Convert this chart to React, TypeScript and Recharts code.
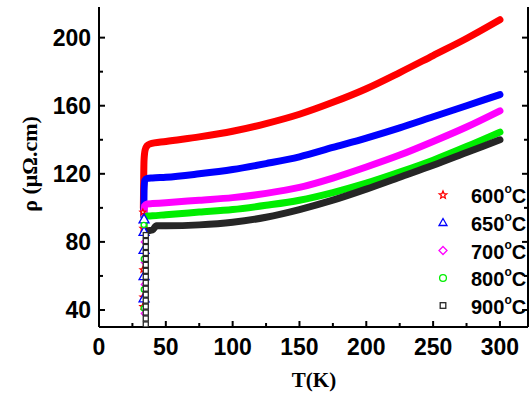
import React from "react";
import { ComposedChart, Line, Scatter, XAxis, YAxis } from "recharts";

// annealing temperatures (legend)
const labels = ["600", "650", "700", "800", "900"];
const colors = ["#ff0000", "#0000ff", "#ff00ff", "#00ee00", "#262626"];
const kinds = ["star", "triangle", "diamond", "circle", "square"];

// dense curves, T (K) and rho (µΩ.cm)
const t600 = [33.2, 33.4, 33.7, 34.5, 36, 38, 50, 75, 100, 125, 150, 175, 200, 225, 250, 275, 300];
const r600 = [100, 115, 128, 134, 136.5, 137.5, 139, 141.7, 145, 149.5, 155, 162, 170, 179.5, 189.5, 199.5, 210.5];
const t650 = [33.5, 33.7, 34.2, 36, 40, 50, 75, 100, 125, 150, 175, 200, 225, 250, 275, 300];
const r650 = [95, 110, 116, 117.3, 117.6, 118, 120, 122.5, 126, 130, 135.5, 141, 147, 153.5, 160, 166.5];
const t700 = [33.8, 34, 36, 40, 50, 75, 100, 125, 150, 175, 200, 225, 250, 275, 300];
const r700 = [96, 101, 102.3, 102.5, 103, 104.5, 106, 108.5, 112, 117.5, 124, 131, 139, 147.5, 157];
const t800 = [33.8, 34, 36, 40, 50, 75, 100, 125, 150, 175, 200, 225, 250, 275, 300];
const r800 = [88, 94, 95.2, 95.3, 96, 97.5, 99, 101.5, 104.5, 109, 114.5, 121, 128, 136, 144.5];
const t900 = [35, 36, 40, 43, 50, 75, 100, 125, 150, 175, 200, 225, 250, 275, 300];
const r900 = [86, 86.5, 87, 89.5, 89.5, 90, 91.5, 94.5, 99, 104.5, 111, 118, 125, 132.5, 140];

// sparse points in the transition
const dropT = [32.8, 33.7, 33.9, 33.5, 35];
const drop600 = [97.5, 88, 63.7, 47.7, 42];
const drop650 = [93.4, 86, 75.4, 60, 47];
const drop700 = [80, 68, 55, 38];
const drop800 = [90, 70, 52, 41];
const drop900 = [84, 80.5, 77, 73.5, 70, 66.5, 63, 59.5, 56, 52.5, 49, 45.5, 42, 38.5, 35, 31.5];

const xTicks = [0, 25, 50, 75, 100, 125, 150, 175, 200, 225, 250, 275, 300];
const yTicks = [40, 60, 80, 100, 120, 140, 160, 180, 200];

const zip = (t: number[], r: number[]) => t.map((T, i) => ({ T, rho: r[i] }));
const curves = [zip(t600, r600), zip(t650, r650), zip(t700, r700), zip(t800, r800), zip(t900, r900)];
const drops = [drop600, drop650, drop700, drop800, drop900].map((d, i) =>
  d.map((rho) => ({ T: dropT[i], rho }))
);

const AXIS = "'Liberation Sans', Arial, sans-serif";
const SERIF = "'Liberation Serif', 'Times New Roman', serif";

function Marker({ kind, cx, cy, color, s = 4 }: any) {
  const common = { fill: "#fff", stroke: color, strokeWidth: 1.3 };
  if (kind === "triangle")
    return <polygon points={`${cx},${cy - s} ${cx + s},${cy + s * 0.75} ${cx - s},${cy + s * 0.75}`} {...common} />;
  if (kind === "square") return <rect x={cx - s * 0.7} y={cy - s * 0.7} width={s * 1.4} height={s * 1.4} {...common} />;
  if (kind === "diamond")
    return <polygon points={`${cx},${cy - s} ${cx + s},${cy} ${cx},${cy + s} ${cx - s},${cy}`} {...common} />;
  if (kind === "circle") return <circle cx={cx} cy={cy} r={s * 0.85} {...common} />;
  const pts: string[] = [];
  for (let i = 0; i < 10; i++) {
    const a = -Math.PI / 2 + (i * Math.PI) / 5;
    const rr = i % 2 === 0 ? s : s * 0.45;
    pts.push(`${cx + rr * Math.cos(a)},${cy + rr * Math.sin(a)}`);
  }
  return <polygon points={pts.join(" ")} {...common} />;
}

const BottomTick = ({ x, y, payload }: any) => {
  const major = payload.value % 50 === 0;
  return (
    <g>
      <line x1={x} x2={x} y1={y} y2={y - (major ? 6 : 4)} stroke="#000" strokeWidth={2} />
      {major && (
        <text x={x} y={y + 28} textAnchor="middle" fontFamily={AXIS} fontWeight="bold" fontSize={23} fill="#000">
          {payload.value}
        </text>
      )}
    </g>
  );
};

const TopTick = ({ x, y, payload }: any) => {
  const major = payload.value % 50 === 0;
  return <line x1={x} x2={x} y1={y} y2={y + (major ? 6 : 4)} stroke="#000" strokeWidth={2} />;
};

const LeftTick = ({ x, y, payload }: any) => {
  const major = payload.value % 40 === 0;
  return (
    <g>
      <line x1={x} x2={x + (major ? 6 : 4)} y1={y} y2={y} stroke="#000" strokeWidth={2} />
      {major && (
        <text x={x - 8} y={y + 8} textAnchor="end" fontFamily={AXIS} fontWeight="bold" fontSize={23} fill="#000">
          {payload.value}
        </text>
      )}
    </g>
  );
};

const RightTick = ({ x, y, payload }: any) => {
  const major = payload.value % 40 === 0;
  return <line x1={x} x2={x - (major ? 6 : 4)} y1={y} y2={y} stroke="#000" strokeWidth={2} />;
};

const legendY = [195, 222.5, 250.5, 278, 305.5];

export default function App() {
  const axisLine = { stroke: "#000", strokeWidth: 2 };
  return (
    <div style={{ position: "absolute", left: 0, top: 0, width: 530, height: 394, background: "#fff" }}>
      <ComposedChart width={530} height={394} margin={{ top: 7, right: 1, bottom: 0, left: 0 }}>
        <XAxis
          xAxisId="b"
          dataKey="T"
          type="number"
          domain={[0, 321]}
          ticks={xTicks}
          height={67}
          axisLine={axisLine}
          tickLine={false}
          tickSize={0}
          tickMargin={0}
          tick={<BottomTick />}
          interval={0}
          allowDataOverflow
        />
        <XAxis
          xAxisId="top"
          orientation="top"
          dataKey="T"
          type="number"
          domain={[0, 321]}
          ticks={xTicks}
          height={0}
          axisLine={axisLine}
          tickLine={false}
          tickSize={0}
          tickMargin={0}
          tick={<TopTick />}
          interval={0}
          allowDataOverflow
        />
        <YAxis
          yAxisId="l"
          type="number"
          domain={[30, 218]}
          ticks={yTicks}
          width={99}
          axisLine={axisLine}
          tickLine={false}
          tickSize={0}
          tickMargin={0}
          tick={<LeftTick />}
          interval={0}
          allowDataOverflow
        />
        <YAxis
          yAxisId="r"
          orientation="right"
          type="number"
          domain={[30, 218]}
          ticks={yTicks}
          width={1}
          axisLine={axisLine}
          tickLine={false}
          tickSize={0}
          tickMargin={0}
          tick={<RightTick />}
          interval={0}
          allowDataOverflow
        />
        {curves.map((d, i) => (
          <Line
            key={"l" + i}
            xAxisId="b"
            yAxisId="l"
            data={d}
            dataKey="rho"
            type="monotoneX"
            stroke={colors[i]}
            strokeWidth={7}
            strokeLinejoin="round"
            strokeLinecap="round"
            dot={false}
            activeDot={false}
            isAnimationActive={false}
          />
        ))}
        {drops.map((d, i) => (
          <Scatter
            key={"s" + i}
            xAxisId="b"
            yAxisId="l"
            data={d}
            dataKey="rho"
            isAnimationActive={false}
            shape={(p: any) => (
              <Marker kind={kinds[i]} cx={p.cx} cy={p.cy} color={colors[i]} s={i === 1 ? 5 : i === 4 ? 3.6 : 3} />
            )}
          />
        ))}
      </ComposedChart>
      <svg width={530} height={394} style={{ position: "absolute", left: 0, top: 0, pointerEvents: "none" }}>
        <text
          transform="translate(37,164) rotate(-90)"
          textAnchor="middle"
          fontFamily={SERIF}
          fontWeight="bold"
          fontSize={22}
          fill="#000"
        >
          ρ (μΩ.cm)
        </text>
        <text x={314} y={387} textAnchor="middle" fontFamily={SERIF} fontWeight="bold" fontSize={21} fill="#000">
          T(K)
        </text>
        {labels.map((l, i) => (
          <g key={l}>
            <Marker kind={kinds[i]} cx={443} cy={legendY[i]} color={colors[i]} s={4} />
            <text x={471} y={legendY[i] + 8} fontFamily={AXIS} fontWeight="bold" fontSize={20} fill="#000">
              {l}
              <tspan fontSize={12} dy={-10}>o</tspan>
              <tspan dy={10}>C</tspan>
            </text>
          </g>
        ))}
      </svg>
    </div>
  );
}
